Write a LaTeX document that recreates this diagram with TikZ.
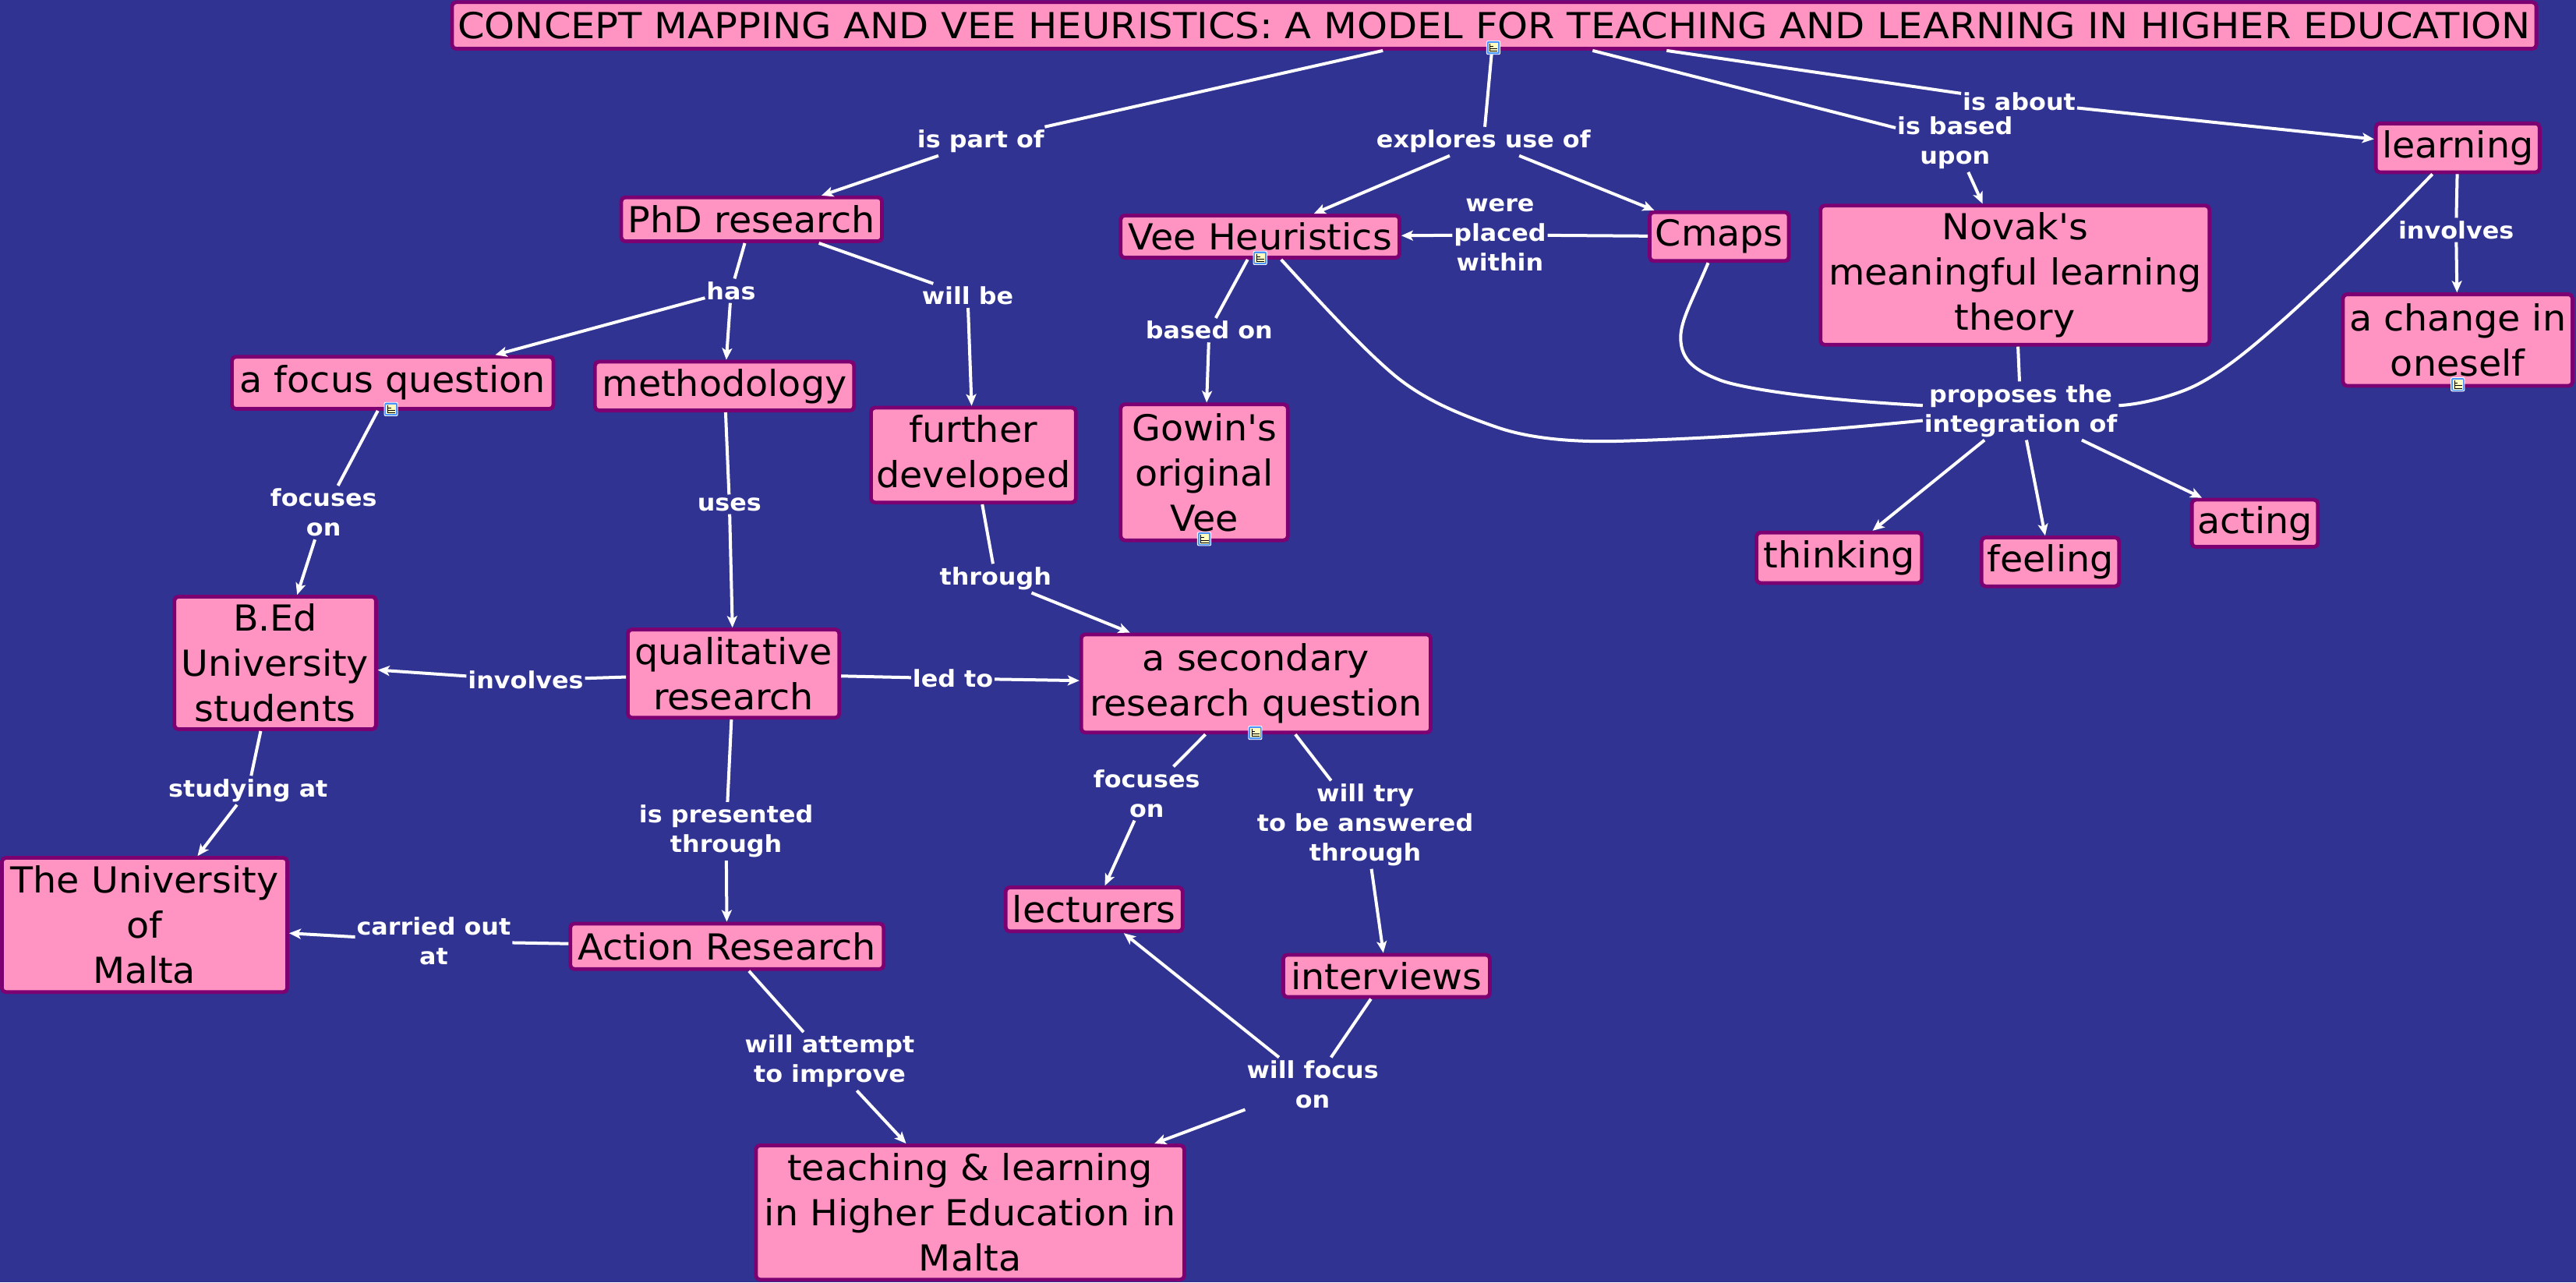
\documentclass[tikz,border=0pt]{standalone}
\usepackage{fontspec}
\setmainfont{DejaVu Sans}
\newfontfamily\boxfont[FakeStretch=1.035]{DejaVu Sans}
\newfontfamily\titlefont[FakeStretch=1.078]{DejaVu Sans}
\newfontfamily\labfont[FakeStretch=1.06]{DejaVu Sans}
\usetikzlibrary{arrows.meta}
\definecolor{bgblue}{RGB}{48,51,146}
\definecolor{boxpink}{RGB}{255,148,194}
\definecolor{boxedge}{RGB}{125,0,115}
\tikzset{
  conceptbox/.style={draw=boxedge,fill=boxpink,line width=2.4pt,rounded corners=2.5pt,inner sep=0pt,outer sep=1.2pt,align=center,text=black,font=\boxfont\fontsize{23}{29}\selectfont},
  linklabel/.style={text=white,inner xsep=1pt,inner ysep=2pt,outer sep=0pt,align=center,font=\labfont\bfseries\fontsize{15}{19}\selectfont},
  plainlink/.style={draw=white,line width=2pt},
  arrowlink/.style={plainlink,-{Stealth[length=7.5pt,width=6.5pt,inset=1.8pt]}},
}
\newcommand{\cbox}[6]{\node[conceptbox,minimum width={(#4-#2-2.3)*1.05389pt},minimum height={(#5-#3-2.3)*1.05389pt}] (#1) at ({(#2+#4)/2},{(#3+#5)/2}) {#6};}
\newcommand{\llab}[4]{\node[linklabel] (#1) at (#2,{#3+1}) {#4};}
\newcommand{\noteicon}[2]{%
  \fill[rounded corners=1pt,fill=white] (#1-4.3,#2-4.3) rectangle (#1+4.3,#2+4.3);
  \fill[rounded corners=1pt,fill=blue!60!cyan!70!white] (#1-3.9,#2-3.9) rectangle (#1+3.9,#2+3.9);
  \fill[fill=yellow!25!white] (#1-3,#2-3) rectangle (#1+3,#2+3);
  \draw[black,line width=0.5pt] (#1-2,#2-2.5) -- (#1-2,#2+2.3) -- (#1+2.6,#2+2.3);
  \draw[black,line width=0.5pt] (#1-2,#2+0.8) -- (#1+2.6,#2+0.8) (#1-2,#2-0.8) -- (#1,#2-0.8);
}
\begin{document}
\begin{tikzpicture}[x=1.05389pt,y=-1.05389pt]
\fill[bgblue] (0,0) rectangle (1568,780.5);
\useasboundingbox (0,0) rectangle (1568,780.5);
% concepts
\cbox{title}{274}{0.2}{1545}{30.8}{\titlefont CONCEPT MAPPING AND VEE HEURISTICS: A MODEL FOR TEACHING AND LEARNING IN HIGHER EDUCATION}
\cbox{learning}{1445}{74}{1547}{106}{learning}
\cbox{phd}{377}{119}{538}{148}{PhD research}
\cbox{vee}{681}{130}{853}{158}{Vee Heuristics}
\cbox{cmaps}{1003}{128}{1090}{160}{Cmaps}
\cbox{novak}{1107}{124}{1346}{211}{Novak\textquotesingle s\\meaningful learning\\theory}
\cbox{change}{1425}{178}{1567}{236}{a change in\\oneself}
\cbox{focusq}{140}{216}{338}{250}{a focus question}
\cbox{method}{361}{219}{521}{251}{methodology}
\cbox{further}{529}{247}{656}{307}{further\\developed}
\cbox{gowin}{681}{245}{785}{330}{Gowin\textquotesingle s\\original\\Vee}
\cbox{thinking}{1068}{323}{1171}{356}{thinking}
\cbox{feeling}{1205}{326}{1291}{358}{feeling}
\cbox{acting}{1333}{303}{1412}{334}{acting}
\cbox{bed}{105}{362}{230}{445}{B.Ed\\University\\students}
\cbox{qual}{381}{382}{512}{438}{qualitative\\research}
\cbox{second}{657}{385}{872}{447}{a secondary\\research question}
\cbox{malta}{0}{521}{176}{605}{The University\\of\\Malta}
\cbox{action}{346}{561}{539}{591}{Action Research}
\cbox{lect}{611}{539}{721}{568}{lecturers}
\cbox{inter}{780}{580}{908}{608}{interviews}
\cbox{teach}{459}{696}{722}{780}{teaching \& learning\\in Higher Education in\\Malta}
% linking phrases
\llab{lpart}{597}{85}{is part of}
\llab{lexpl}{903}{85}{explores use of}
\llab{lbased}{1190}{86}{is based\\upon}
\llab{labout}{1229}{61}{is about}
\llab{lwere}{913}{142}{were\\placed\\within}
\llab{linv}{1495}{139}{involves}
\llab{lhas}{445}{176}{has}
\llab{lwill}{589}{179}{will be}
\llab{lbon}{736}{200}{based on}
\llab{lprop}{1230}{249}{proposes the\\integration of}
\llab{lfoc}{197}{311}{focuses\\on}
\llab{luses}{444}{306}{uses}
\llab{lthr}{606}{351}{through}
\llab{linvb}{320}{413}{involves}
\llab{lled}{580}{412}{led to}
\llab{lstud}{151}{480}{studying at}
\llab{lfocb}{698}{482}{focuses\\on}
\llab{ltry}{831}{501}{will try\\to be answered\\through}
\llab{lpres}{442}{505}{is presented\\through}
\llab{lcarr}{264}{572}{carried out\\at}
\llab{latt}{505}{645}{will attempt\\to improve}
\llab{lwfo}{799}{659}{will focus\\on}
% connectors
\draw[plainlink] (title) -- (lpart);
\draw[arrowlink] (lpart) -- (phd);
\draw[plainlink] (title) -- (lexpl);
\draw[arrowlink] (lexpl) -- (vee);
\draw[arrowlink] (lexpl) -- (cmaps);
\draw[plainlink] (title) -- (lbased);
\draw[arrowlink] (lbased) -- (novak);
\draw[plainlink] (title) -- (labout);
\draw[arrowlink] (labout) -- (learning);
\draw[plainlink] (cmaps) -- (lwere);
\draw[arrowlink] (lwere) -- (vee);
\draw[plainlink] (learning) -- (linv);
\draw[arrowlink] (linv) -- (change);
\draw[plainlink] (phd) -- (lhas);
\draw[arrowlink] (lhas) -- (focusq);
\draw[arrowlink] (lhas) -- (method);
\draw[plainlink] (phd) -- (lwill);
\draw[arrowlink] (lwill) -- (further);
\draw[plainlink] (vee) -- (lbon);
\draw[arrowlink] (lbon) -- (gowin);
\draw[plainlink] (novak) -- (lprop);
\draw[arrowlink] (lprop) -- (thinking);
\draw[arrowlink] (lprop) -- (feeling);
\draw[arrowlink] (lprop) -- (acting);
\draw[plainlink] (vee) .. controls (800,180) and (828,211) .. (849,228.6) .. controls (866,242.5) and (885,251) .. (911,260) .. controls (935,268.3) and (965,269) .. (985,268.5) .. controls (1040,267) and (1100,263) .. (lprop);
\draw[plainlink] (cmaps) .. controls (1030,183) and (1023,195) .. (1023,205.5) .. controls (1023,220) and (1033,226) .. (1047.6,231.6) .. controls (1060,236) and (1100,243) .. (lprop);
\draw[plainlink] (learning) .. controls (1440,148) and (1415,172) .. (1391,193.6) .. controls (1378,205) and (1356,225) .. (1336,234.8) .. controls (1325,240.2) and (1305,246) .. (lprop);
\draw[plainlink] (focusq) -- (lfoc);
\draw[arrowlink] (lfoc) -- (bed);
\draw[plainlink] (method) -- (luses);
\draw[arrowlink] (luses) -- (qual);
\draw[plainlink] (further) -- (lthr);
\draw[arrowlink] (lthr) -- (second);
\draw[plainlink] (qual) -- (linvb);
\draw[arrowlink] (linvb) -- (bed);
\draw[plainlink] (qual) -- (lled);
\draw[arrowlink] (lled) -- (second);
\draw[plainlink] (bed) -- (lstud);
\draw[arrowlink] (lstud) -- (malta);
\draw[plainlink] (second) -- (lfocb);
\draw[arrowlink] (lfocb) -- (lect);
\draw[plainlink] (second) -- (ltry);
\draw[arrowlink] (ltry) -- (inter);
\draw[plainlink] (qual) -- (lpres);
\draw[arrowlink] (lpres) -- (action);
\draw[plainlink] (action) -- (lcarr);
\draw[arrowlink] (lcarr) -- (malta);
\draw[plainlink] (action) -- (latt);
\draw[arrowlink] (latt) -- (teach);
\draw[plainlink] (inter) -- (lwfo);
\draw[arrowlink] (lwfo) -- (lect);
\draw[arrowlink] (lwfo) -- (teach);
% note icons
\noteicon{909}{29}
\noteicon{767}{157}
\noteicon{238}{249}
\noteicon{733}{328}
\noteicon{764}{446}
\noteicon{1496}{234}
\end{tikzpicture}
\end{document}
